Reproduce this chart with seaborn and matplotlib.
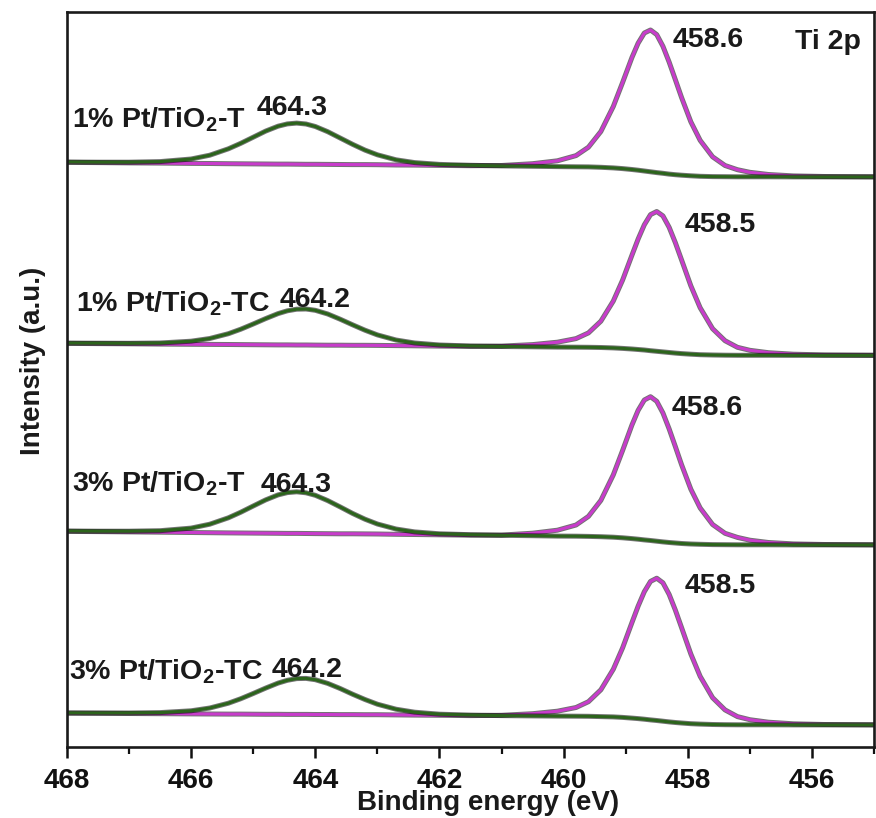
import matplotlib
matplotlib.use("Agg")
import numpy as np
import pandas as pd
import seaborn as sns
import matplotlib.pyplot as plt
import matplotlib.patheffects as pe
from matplotlib.ticker import MultipleLocator

# ---------------- data ----------------
energy = [468.0, 467.5, 467.0, 466.5, 466.0, 465.7, 465.4, 465.2, 465.0, 464.8,
          464.6, 464.45, 464.3, 464.15, 464.0, 463.8, 463.6, 463.4, 463.2, 463.0,
          462.7, 462.4, 462.0, 461.5, 461.0, 460.5, 460.1, 459.8, 459.6, 459.4,
          459.2, 459.05, 458.9, 458.8, 458.7, 458.6, 458.5, 458.4, 458.3, 458.2,
          458.1, 457.95, 457.8, 457.6, 457.4, 457.2, 457.0, 456.7, 456.3, 455.8, 455.0]

samples = ["1% Pt/TiO$_2$-T", "1% Pt/TiO$_2$-TC", "3% Pt/TiO$_2$-T", "3% Pt/TiO$_2$-TC"]
peak_2p12 = ["464.3", "464.2", "464.3", "464.2"]
peak_2p32 = ["458.6", "458.5", "458.6", "458.5"]
panel_title = "Ti 2p"
x_ticks = [468, 466, 464, 462, 460, 458, 456]

# Ti 2p1/2 component (green) and Ti 2p3/2 component (magenta), stacked intensities (a.u.)
s1_2p12 = [583.0, 582.8, 582.8, 583.4, 586.0, 589.8, 596.2, 601.7, 607.8, 613.9,
           618.8, 621.1, 621.9, 621.0, 618.5, 613.3, 607.0, 600.7, 594.9, 590.2,
           585.2, 582.4, 580.6, 579.7, 579.1, 578.7, 578.4, 578.2, 578.1, 577.7,
           577.1, 576.4, 575.5, 574.8, 574.0, 573.2, 572.4, 571.7, 570.9, 570.3,
           569.8, 569.2, 568.7, 568.4, 568.3, 568.2, 568.2, 568.2, 568.1, 568.1, 568.1]
s1_2p32 = [582.6, 582.4, 582.1, 581.9, 581.6, 581.5, 581.3, 581.2, 581.1, 581.0,
           580.9, 580.9, 580.8, 580.7, 580.7, 580.6, 580.5, 580.4, 580.4, 580.3,
           580.0, 579.9, 579.6, 579.3, 579.5, 581.3, 584.2, 589.4, 597.8, 613.5,
           638.5, 662.5, 687.4, 701.8, 712.0, 715.0, 710.4, 698.7, 682.9, 665.3,
           647.5, 623.1, 604.6, 588.2, 579.5, 575.3, 572.7, 570.5, 569.1, 568.5, 568.2]

s2_2p12 = [401.9, 401.8, 401.7, 402.0, 403.8, 406.5, 411.3, 415.8, 421.0, 426.4,
           431.4, 434.2, 435.8, 436.0, 434.7, 431.0, 425.8, 420.2, 414.8, 410.1,
           405.0, 402.0, 400.0, 399.0, 398.5, 398.2, 397.9, 397.8, 397.7, 397.5,
           397.1, 396.6, 396.0, 395.5, 395.0, 394.3, 393.7, 393.1, 392.5, 391.9,
           391.4, 390.8, 390.3, 390.0, 389.8, 389.7, 389.7, 389.7, 389.6, 389.6, 389.6]
s2_2p32 = [401.6, 401.4, 401.2, 400.9, 400.7, 400.6, 400.5, 400.4, 400.3, 400.2,
           400.1, 400.1, 400.0, 400.0, 399.9, 399.8, 399.8, 399.7, 399.7, 399.6,
           399.4, 399.2, 398.9, 398.6, 398.9, 400.4, 402.8, 406.4, 412.1, 423.8,
           443.9, 464.9, 489.7, 505.9, 520.2, 530.4, 533.5, 529.1, 517.7, 502.3,
           485.1, 459.1, 437.2, 416.3, 404.3, 397.7, 394.7, 392.3, 390.8, 390.1, 389.8]

s3_2p12 = [214.0, 213.8, 213.8, 214.3, 216.9, 220.8, 227.2, 232.8, 239.0, 245.1,
           250.1, 252.4, 253.2, 252.2, 249.7, 244.4, 238.1, 231.6, 225.8, 221.0,
           216.0, 213.1, 211.2, 210.3, 209.7, 209.3, 208.9, 208.8, 208.6, 208.3,
           207.8, 207.2, 206.4, 205.8, 205.1, 204.5, 203.8, 203.1, 202.5, 202.0,
           201.5, 201.0, 200.7, 200.4, 200.3, 200.2, 200.2, 200.2, 200.1, 200.1, 200.1]
s3_2p32 = [213.6, 213.4, 213.1, 212.8, 212.5, 212.3, 212.1, 212.0, 211.9, 211.8,
           211.7, 211.6, 211.6, 211.5, 211.4, 211.3, 211.2, 211.2, 211.1, 211.0,
           210.7, 210.5, 210.2, 209.8, 209.9, 211.8, 214.8, 220.0, 228.6, 244.6,
           270.1, 294.5, 319.9, 334.6, 345.0, 348.3, 343.7, 332.0, 316.1, 298.4,
           280.3, 255.7, 237.0, 220.5, 211.7, 207.6, 204.8, 202.5, 201.1, 200.5, 200.2]

s4_2p12 = [32.1, 32.0, 32.0, 32.4, 34.2, 37.0, 41.8, 46.3, 51.5, 56.9,
           61.9, 64.7, 66.4, 66.6, 65.3, 61.6, 56.5, 50.8, 45.5, 40.8,
           35.8, 32.8, 30.8, 29.9, 29.4, 29.1, 28.9, 28.8, 28.7, 28.4,
           28.1, 27.6, 26.9, 26.4, 25.8, 25.1, 24.5, 23.8, 23.1, 22.5,
           22.0, 21.3, 20.9, 20.5, 20.3, 20.2, 20.2, 20.2, 20.1, 20.1, 20.1]
s4_2p32 = [31.8, 31.7, 31.5, 31.3, 31.1, 31.0, 30.9, 30.9, 30.8, 30.7,
           30.7, 30.6, 30.6, 30.6, 30.5, 30.5, 30.4, 30.4, 30.3, 30.3,
           30.1, 29.9, 29.7, 29.4, 29.7, 31.3, 33.8, 37.5, 43.3, 55.2,
           75.7, 97.1, 122.3, 138.8, 153.3, 163.6, 166.8, 162.2, 150.6, 134.9,
           117.4, 90.9, 68.6, 47.3, 35.1, 28.4, 25.3, 22.8, 21.2, 20.5, 20.2]

series_2p12 = [s1_2p12, s2_2p12, s3_2p12, s4_2p12]
series_2p32 = [s1_2p32, s2_2p32, s3_2p32, s4_2p32]

# ---------------- long table ----------------
rows = []
for name, y12, y32 in zip(samples, series_2p12, series_2p32):
    for e, v in zip(energy, y32):
        rows.append((name, "2p3/2", e, v))
    for e, v in zip(energy, y12):
        rows.append((name, "2p1/2", e, v))
df = pd.DataFrame(rows, columns=["sample", "component", "energy", "intensity"])

# ---------------- style ----------------
sns.set_style("white")
plt.rcParams["font.family"] = ["Liberation Sans", "DejaVu Sans"]
plt.rcParams["font.weight"] = "bold"
plt.rcParams["axes.labelweight"] = "bold"
plt.rcParams["mathtext.fontset"] = "custom"
plt.rcParams["mathtext.rm"] = "Liberation Sans:bold"
plt.rcParams["mathtext.bf"] = "Liberation Sans:bold"
plt.rcParams["mathtext.it"] = "Liberation Sans:italic:bold"
plt.rcParams["mathtext.default"] = "rm"

W, H = 876, 818
fig = plt.figure(figsize=(W / 100, H / 100), dpi=100)
ax = fig.add_axes([67 / W, 1 - 747 / H, (874 - 67) / W, (747 - 12) / H])

palette = {"2p3/2": "#C83CCB", "2p1/2": "#2C641C"}
sns.lineplot(data=df, x="energy", y="intensity", hue="component", units="sample",
             estimator=None, sort=False, hue_order=["2p3/2", "2p1/2"],
             palette=palette, legend=False, linewidth=2.2, ax=ax)
for ln in ax.lines:
    ln.set_path_effects([pe.Stroke(linewidth=3.6, foreground="black", alpha=0.55),
                         pe.Normal()])
    ln.set_solid_capstyle("round")
    ln.set_solid_joinstyle("round")

ax.set_xlim(468, 455)
ax.set_ylim(-2, 733)
ax.set_xticks(x_ticks)
ax.set_xticklabels([str(t) for t in x_ticks])
ax.xaxis.set_minor_locator(MultipleLocator(1))
ax.set_yticks([])
ax.tick_params(axis="x", which="major", direction="out", length=8, width=1.8,
               pad=7, labelsize=20, bottom=True, colors="#111111")
ax.tick_params(axis="x", which="minor", direction="out", length=5, width=1.6,
               bottom=True, colors="#111111")
for lbl in ax.get_xticklabels():
    lbl.set_fontweight("bold")
for sp in ax.spines.values():
    sp.set_linewidth(1.9)
    sp.set_color("#1a1a1a")
ax.set_xlabel("")
ax.set_ylabel("")

def ftext(px, py, s, **kw):
    fig.text(px / W, 1 - py / H, s, fontsize=kw.pop("fontsize", 20.5),
             fontweight="bold", color="#1a1a1a", **kw)

sample_pos = [(72, 128), (76, 312), (72, 492), (69, 680)]
p12_pos = [(257, 115), (280, 307), (261, 492), (272, 677)]
p32_pos = [(673, 47), (685, 232), (672, 415), (685, 593)]
for i in range(4):
    ftext(*sample_pos[i], samples[i], ha="left", va="baseline")
    ftext(*p12_pos[i], peak_2p12[i], ha="left", va="baseline")
    ftext(*p32_pos[i], peak_2p32[i], ha="left", va="baseline")
ftext(795, 49, panel_title, ha="left", va="baseline")

ftext(488, 810, "Binding energy (eV)", ha="center", va="baseline", fontsize=20)
ftext(33, 361, "Intensity (a.u.)", ha="center", va="center", rotation=90, fontsize=20)

fig.savefig("out.png", dpi=100, facecolor="white")
